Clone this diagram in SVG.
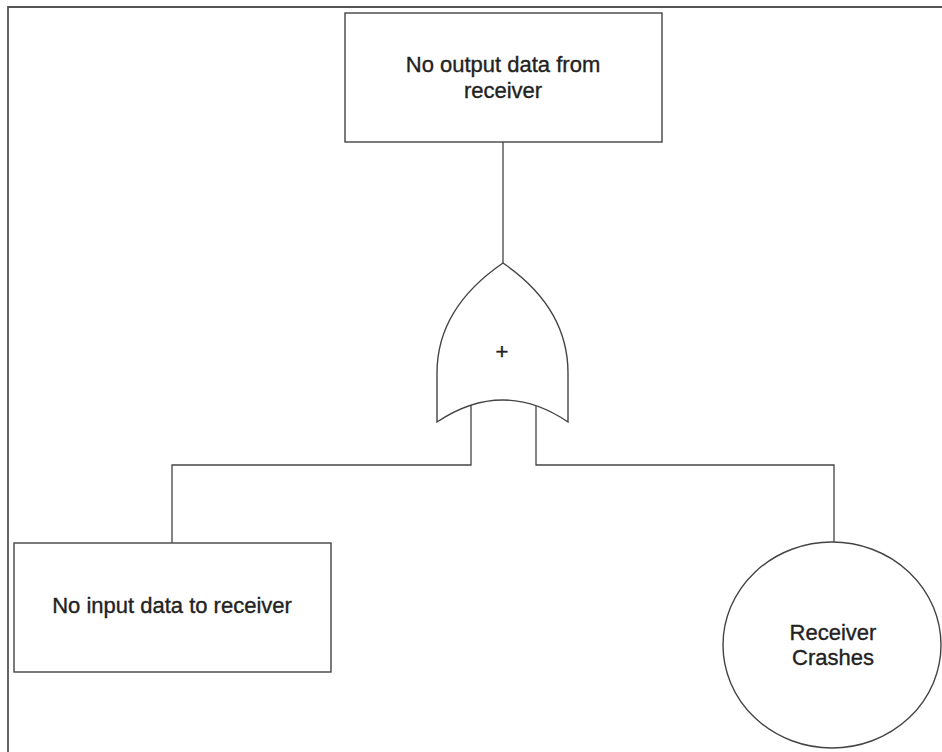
<svg xmlns="http://www.w3.org/2000/svg" width="942" height="752" viewBox="0 0 942 752">
  <style>
    .shape { fill: #ffffff; stroke: #444; stroke-width: 1.4; }
    .wire { fill: none; stroke: #444; stroke-width: 1.3; }
    .frame { fill: none; stroke: #555; stroke-width: 1.8; }
    .label { font-family: "Liberation Sans", Arial, sans-serif; font-size: 22px; fill: #222; stroke: #222; stroke-width: 0.35; text-anchor: middle; }
  </style>
  <rect width="942" height="752" fill="#ffffff"/>

  <!-- page frame -->
  <path class="frame" d="M8,752 V7 H942"/>

  <!-- connectors -->
  <g id="connectors">
    <path class="wire" d="M503,142 V263"/>
    <path class="wire" d="M471,405 V465 H172 V543"/>
    <path class="wire" d="M536,405 V465 H834 V542"/>
  </g>

  <!-- top event -->
  <g id="top-event">
    <rect class="shape" x="345" y="13" width="317" height="129"/>
    <text class="label" x="503" y="72">No output data from</text>
    <text class="label" x="503" y="98">receiver</text>
  </g>

  <!-- OR gate -->
  <g id="or-gate">
    <path class="shape" d="M437,422 V373 C437,322 468,287 503,263 C538,287 568,322 568,373 V422 Q503,378 437,422 Z"/>
    <text class="label" x="502" y="359" font-size="18">+</text>
  </g>

  <!-- left input event -->
  <g id="no-input">
    <rect class="shape" x="14" y="543" width="317" height="129"/>
    <text class="label" x="172" y="613">No input data to receiver</text>
  </g>

  <!-- basic event -->
  <g id="receiver-crashes">
    <ellipse class="shape" cx="832" cy="645" rx="109" ry="103"/>
    <text class="label" x="833" y="640">Receiver</text>
    <text class="label" x="833" y="665">Crashes</text>
  </g>
</svg>
